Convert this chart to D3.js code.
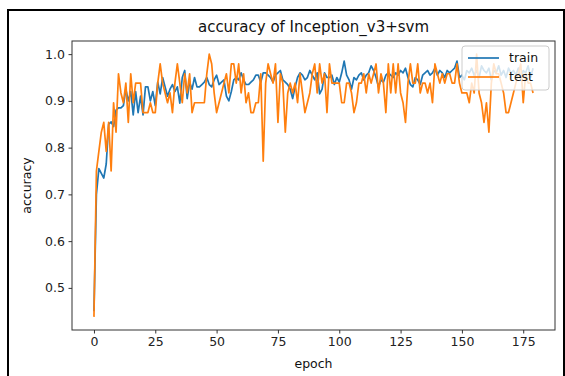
<!DOCTYPE html>
<html lang="en">
<head>
<meta charset="UTF-8">
<script src="https://d3js.org/d3.v7.min.js"></script>
<style>
  body { margin: 0; background: #fff; }
  svg { display: block; font-family: "DejaVu Sans", sans-serif; }
</style>
</head>
<body>
<svg id="chart" width="565" height="376"></svg>
<script>

// accuracy per epoch
const train = [
  0.45, 0.70, 0.755, 0.745, 0.735, 0.765, 0.85, 0.855, 0.845, 0.88,
  0.885, 0.885, 0.89, 0.925, 0.90, 0.92, 0.87, 0.92, 0.875, 0.91,
  0.87, 0.93, 0.93, 0.90, 0.92, 0.89, 0.94, 0.915, 0.95, 0.93,
  0.91, 0.925, 0.935, 0.92, 0.93, 0.895, 0.95, 0.965, 0.905, 0.94,
  0.925, 0.95, 0.93, 0.93, 0.935, 0.94, 0.95, 0.935, 0.93, 0.945,
  0.955, 0.935, 0.94, 0.945, 0.91, 0.90, 0.92, 0.945, 0.95, 0.945,
  0.96, 0.945, 0.935, 0.935, 0.94, 0.945, 0.955, 0.955, 0.94, 0.96,
  0.96, 0.955, 0.95, 0.94, 0.955, 0.96, 0.965, 0.945, 0.94, 0.935,
  0.925, 0.905, 0.93, 0.95, 0.96, 0.955, 0.945, 0.95, 0.965, 0.955,
  0.945, 0.96, 0.915, 0.925, 0.96, 0.95, 0.95, 0.955, 0.935, 0.95,
  0.94, 0.96, 0.985, 0.955, 0.945, 0.925, 0.95, 0.945, 0.955, 0.96,
  0.945, 0.955, 0.96, 0.975, 0.965, 0.95, 0.93, 0.945, 0.94, 0.955,
  0.96, 0.955, 0.95, 0.96, 0.955, 0.965, 0.96, 0.97, 0.95, 0.935,
  0.93, 0.95, 0.945, 0.935, 0.955, 0.96, 0.965, 0.955, 0.96, 0.97,
  0.955, 0.965, 0.96, 0.95, 0.965, 0.96, 0.965, 0.97, 0.985, 0.95,
  0.955, 0.945, 0.965, 0.96, 0.97, 0.955, 0.965, 0.95, 0.975, 0.965,
  0.96, 0.97, 0.945, 0.965, 0.96, 0.975, 0.955, 0.965, 0.95, 0.97,
  0.96, 0.965, 0.955, 0.97, 0.945, 0.965, 0.96, 0.975, 0.95, 0.97
]

const test = [
  0.438, 0.75, 0.792, 0.833, 0.854, 0.792, 0.854, 0.75, 0.896, 0.833,
  0.958, 0.917, 0.896, 0.938, 0.854, 0.958, 0.896, 0.938, 0.938, 0.938,
  0.875, 0.875, 0.875, 0.896, 0.875, 0.875, 0.938, 0.979, 0.938, 0.917,
  0.896, 0.917, 0.875, 0.938, 0.979, 0.938, 0.896, 0.958, 0.917, 0.958,
  0.875, 0.896, 0.896, 0.896, 0.896, 0.896, 0.958, 1.0, 0.979, 0.917,
  0.875, 0.896, 0.917, 0.938, 0.958, 0.917, 0.979, 0.979, 0.938, 0.979,
  0.917, 0.958, 0.896, 0.917, 0.875, 0.875, 0.896, 0.896, 0.958, 0.771,
  0.938, 0.979, 0.958, 0.938, 0.979, 0.854, 0.958, 0.938, 0.833, 0.917,
  0.938, 0.917, 0.938, 0.896, 0.958, 0.917, 0.875, 0.896, 0.917, 0.958,
  0.979, 0.917, 0.979, 0.938, 0.958, 0.875, 0.979, 0.938, 0.938, 0.938,
  0.938, 0.896, 0.896, 0.938, 0.938, 0.917, 0.875, 0.896, 0.938, 0.938,
  0.958, 0.917, 0.958, 0.938, 0.958, 0.979, 0.917, 0.958, 0.938, 0.875,
  0.979, 0.917, 0.979, 0.917, 0.979, 0.917, 0.896, 0.854, 0.938, 0.979,
  0.938, 0.938, 0.979, 0.917, 0.938, 0.938, 0.917, 0.938, 0.896, 0.979,
  0.958, 0.938, 0.958, 0.938, 0.958, 0.958, 0.938, 0.938, 0.979, 0.938,
  0.917, 0.917, 0.917, 0.896, 0.938, 0.917, 1.0, 0.917, 0.896, 0.854,
  0.896, 0.833, 0.938, 0.979, 0.958, 0.958, 0.938, 0.917, 0.875, 0.875,
  0.896, 0.917, 0.938, 0.958, 0.979, 0.896, 0.958, 0.938, 0.938, 0.917
]

const xTicks = [0, 25, 50, 75, 100, 125, 150, 175]
const yTicks = [0.5, 0.6, 0.7, 0.8, 0.9, 1.0]

const margin = {top: 41, right: 10, bottom: 46, left: 72},
    W = 565,
    H = 376,
    width = W - margin.left - margin.right,
    height = H - margin.top - margin.bottom

const svg = d3.select('#chart')

// outer frame of the screenshot
svg.append('path')
    .attr('d', `M8,${H + 2} L8,10 L564,10 L564,${H + 2}`)
    .attr('fill', 'none')
    .attr('stroke', '#000')
    .attr('stroke-width', 2)

const g = svg.append('g')
    .attr('transform', `translate(${margin.left},${margin.top})`)

const n = train.length
const pad = (n - 1) * 0.05
const x = d3.scaleLinear()
    .domain([-pad, n - 1 + pad])
    .range([0, width])

const lo = d3.min([d3.min(train), d3.min(test)]),
      hi = d3.max([d3.max(train), d3.max(test)])
const y = d3.scaleLinear()
    .domain([lo - (hi - lo) * 0.05, hi + (hi - lo) * 0.05])
    .range([height, 0])

const line = d3.line()
    .x((d, i) => x(i))
    .y(d => y(d))

g.append('path')
    .datum(train)
    .attr('fill', 'none')
    .attr('stroke', '#1f77b4')
    .attr('stroke-width', 1.7)
    .attr('stroke-linejoin', 'round')
    .attr('d', line)

g.append('path')
    .datum(test)
    .attr('fill', 'none')
    .attr('stroke', '#ff7f0e')
    .attr('stroke-width', 1.7)
    .attr('stroke-linejoin', 'round')
    .attr('d', line)

// axes
const xAxis = g.append('g')
    .attr('transform', `translate(0,${height})`)
    .call(d3.axisBottom(x).tickValues(xTicks).tickSize(3.5).tickPadding(3.5))
const yAxis = g.append('g')
    .call(d3.axisLeft(y).tickValues(yTicks).tickFormat(d3.format('.1f')).tickSize(3.5).tickPadding(3.5))

for (const ax of [xAxis, yAxis]) {
    ax.select('.domain').remove()
    ax.selectAll('.tick line').attr('stroke', '#333')
    ax.selectAll('.tick text')
        .attr('fill', '#222')
        .style('font-size', '12.5px')
        .style('font-family', '"DejaVu Sans", sans-serif')
}

g.append('rect')
    .attr('width', width)
    .attr('height', height)
    .attr('fill', 'none')
    .attr('stroke', '#333')
    .attr('stroke-width', 1)

// labels
svg.append('text')
    .attr('x', margin.left + width / 2)
    .attr('y', 32)
    .attr('text-anchor', 'middle')
    .style('font-size', '15px')
    .attr('fill', '#111')
    .text('accuracy of Inception_v3+svm')

svg.append('text')
    .attr('x', margin.left + width / 2)
    .attr('y', 368)
    .attr('text-anchor', 'middle')
    .style('font-size', '12.5px')
    .attr('fill', '#111')
    .text('epoch')

svg.append('text')
    .attr('transform', `translate(31,${margin.top + height / 2}) rotate(-90)`)
    .attr('text-anchor', 'middle')
    .style('font-size', '12.5px')
    .attr('fill', '#111')
    .text('accuracy')

// legend
const legend = g.append('g')
    .attr('transform', `translate(${width - 93},5)`)
legend.append('rect')
    .attr('width', 87)
    .attr('height', 44)
    .attr('rx', 3)
    .attr('fill', '#fff')
    .attr('fill-opacity', 0.8)
    .attr('stroke', '#ccc')

const items = [['train', '#1f77b4'], ['test', '#ff7f0e']]
items.forEach(([name, color], i) => {
    const yy = 12 + i * 19
    legend.append('line')
        .attr('x1', 6).attr('x2', 37)
        .attr('y1', yy).attr('y2', yy)
        .attr('stroke', color)
        .attr('stroke-width', 1.7)
    legend.append('text')
        .attr('x', 47)
        .attr('y', yy)
        .attr('dy', '0.35em')
        .style('font-size', '12.5px')
        .attr('fill', '#111')
        .text(name)
})

</script>
</body>
</html>
